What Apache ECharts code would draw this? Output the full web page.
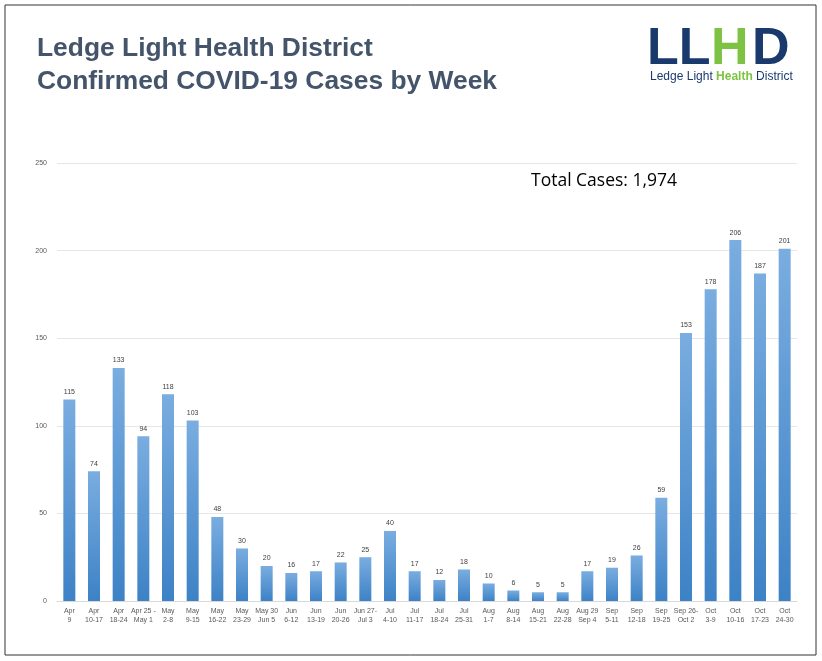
<!DOCTYPE html>
<html><head><meta charset="utf-8">
<script src="https://cdn.jsdelivr.net/npm/echarts@6/dist/echarts.min.js"></script>
<style>html,body{margin:0;padding:0;background:#fff}#c{width:822px;height:661px}</style>
</head><body><div id="c"></div>
<script>
const categories = ["Apr\n9","Apr\n10-17","Apr\n18-24","Apr 25 -\nMay 1","May\n2-8","May\n9-15","May\n16-22","May\n23-29","May 30\nJun 5","Jun\n6-12","Jun\n13-19","Jun\n20-26","Jun 27-\nJul 3","Jul\n4-10","Jul\n11-17","Jul\n18-24","Jul\n25-31","Aug\n1-7","Aug\n8-14","Aug\n15-21","Aug\n22-28","Aug 29\nSep 4","Sep\n5-11","Sep\n12-18","Sep\n19-25","Sep 26-\nOct 2","Oct\n3-9","Oct\n10-16","Oct\n17-23","Oct\n24-30"];
const cases = [115,74,133,94,118,103,48,30,20,16,17,22,25,40,17,12,18,10,6,5,5,17,19,26,59,153,178,206,187,201];
const chart = echarts.init(document.getElementById('c'));
chart.setOption({
  animation:false,
  graphic:[
    {type:'rect',shape:{x:5,y:5,width:811,height:650},style:{fill:'none',stroke:'#333',lineWidth:1}},
    {type:'text',left:37,top:32,style:{text:'Ledge Light Health District\nConfirmed COVID-19 Cases by Week',font:'bold 26.4px Arial, "Liberation Sans"',fill:'#44546a',lineHeight:33}},
    {type:'text',left:647,top:24,style:{text:'LL',font:'bold 52px Arial, "Liberation Sans"',fill:'#1a3a6e'}},
    {type:'text',left:711,top:24,style:{text:'H',font:'bold 52px Arial, "Liberation Sans"',fill:'#7dc242'}},
    {type:'text',left:752,top:24,style:{text:'D',font:'bold 52px Arial, "Liberation Sans"',fill:'#1a3a6e'}},
    {type:'text',left:650,top:71,style:{rich:{a:{font:'12px Arial, "Liberation Sans"',fill:'#1a3a6e'},b:{font:'bold 12px Arial, "Liberation Sans"',fill:'#7dc242'}},text:'{a|Ledge Light }{b|Health}{a| District}'}},
    {type:'text',left:531,top:172,style:{text:'Total Cases: 1,974',font:'17.5px "Open Sans", "Liberation Sans", sans-serif',fill:'#000'}}
  ],
  grid:{left:57,right:25,top:163,bottom:60},
  xAxis:{type:'category',data:categories,axisTick:{show:false},axisLine:{lineStyle:{color:'#d9d9d9'}},
    axisLabel:{interval:0,fontSize:7,color:'#595959',lineHeight:9,margin:6}},
  yAxis:{type:'value',min:0,max:250,interval:50,axisLabel:{fontSize:7,color:'#595959',margin:10},
    splitLine:{lineStyle:{color:'#e6e6e6'}}},
  series:[{type:'bar',data:cases,barWidth:12,
    itemStyle:{color:new echarts.graphic.LinearGradient(0,0,0,1,[{offset:0,color:'#7aade0'},{offset:1,color:'#3d82c6'}])},
    label:{show:true,position:'top',fontSize:7,color:'#404040',distance:4}}]
});
</script></body></html>
